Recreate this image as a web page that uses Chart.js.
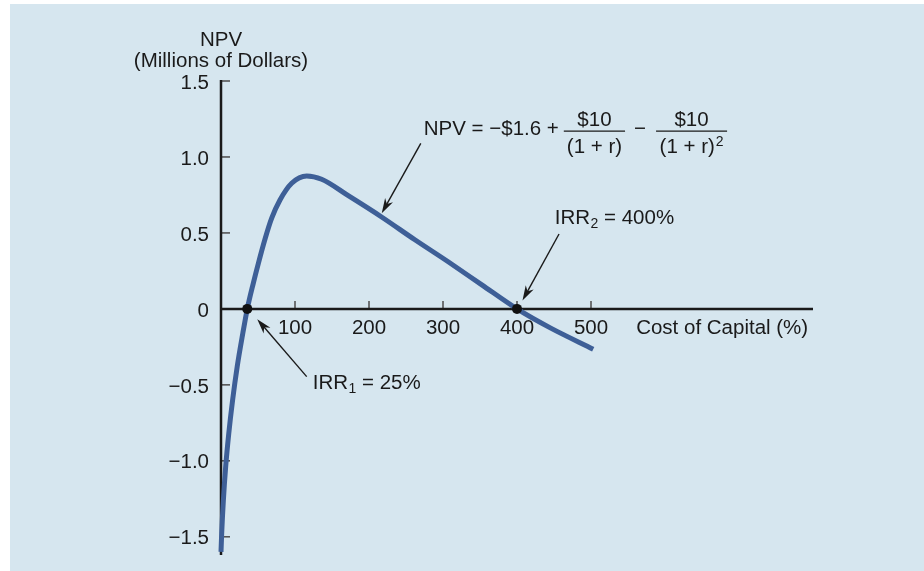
<!DOCTYPE html>
<html>
<head>
<meta charset="utf-8">
<script src="https://cdn.jsdelivr.net/npm/chart.js@4.4.0/dist/chart.umd.min.js"></script>
<style>
    html, body { margin: 0; padding: 0; background: #ffffff; }
    #wrap { width: 924px; height: 571px; }
</style>
</head>
<body>
<div id="wrap"><canvas id="npv-chart" width="924" height="571"></canvas></div>
<script>
// ==================== DATOS ====================

// Curva NPV (costo de capital %, millones de dolares)
const npvX = [0, 0.95, 3.2, 6.3, 10.5, 15.7, 21.9, 29.5, 35.5, 43.7, 50.5, 59.5, 68.5, 79.7, 95.5, 115.8, 136, 172, 217, 262, 307, 352, 400, 445, 503];
const npvY = [-1.6, -1.475, -1.26, -1.04, -0.82, -0.6, -0.38, -0.16, 0, 0.17, 0.30, 0.46, 0.597, 0.717, 0.827, 0.875, 0.853, 0.745, 0.605, 0.455, 0.31, 0.16, 0, -0.125, -0.265];

// Puntos IRR marcados sobre el eje
const irrX = [35.5, 400];
const irrY = [0, 0];

// Ejes
const xTicks = [100, 200, 300, 400, 500];
const yTicks = [-1.5, -1.0, -0.5, 0, 0.5, 1.0, 1.5];
const yTickLabels = ['\u22121.5', '\u22121.0', '\u22120.5', '0', '0.5', '1.0', '1.5'];

const FONT = '"Liberation Sans", Arial, Helvetica, sans-serif';
const INK = '#1a1a1a';
const BASE = 20.5;

function font(size) {
    return size + 'px ' + FONT;
}

/**
 * Flecha con punta rellena, de (x1,y1) a (x2,y2)
 */
function drawArrow(ctx, x1, y1, x2, y2) {
    const ang = Math.atan2(y2 - y1, x2 - x1);
    const len = 15, half = 4.5;
    const c = Math.cos(ang), s = Math.sin(ang);
    ctx.save();
    ctx.strokeStyle = INK;
    ctx.fillStyle = INK;
    ctx.lineWidth = 1.4;
    ctx.beginPath();
    ctx.moveTo(x1, y1);
    ctx.lineTo(x2 - c * len * 0.6, y2 - s * len * 0.6);
    ctx.stroke();
    ctx.beginPath();
    ctx.moveTo(x2, y2);
    ctx.lineTo(x2 - c * len + s * half, y2 - s * len - c * half);
    ctx.lineTo(x2 - c * len * 0.7, y2 - s * len * 0.7);
    ctx.lineTo(x2 - c * len - s * half, y2 - s * len + c * half);
    ctx.closePath();
    ctx.fill();
    ctx.restore();
}

/**
 * Texto tipo "IRR" + subindice + resto
 */
function drawSubLabel(ctx, left, mid, base, sub, rest) {
    ctx.textAlign = 'left';
    ctx.textBaseline = 'middle';
    ctx.font = font(BASE);
    ctx.fillText(base, left, mid);
    let x = left + ctx.measureText(base).width;
    ctx.font = font(14);
    ctx.fillText(sub, x + 0.5, mid + 6);
    x += ctx.measureText(sub).width + 0.5;
    ctx.font = font(BASE);
    ctx.fillText(rest, x, mid);
}

// ==================== PLUGIN: FONDO, EJES Y ANOTACIONES ====================

const npvPlugin = {
    id: 'npvDecor',
    beforeDraw(chart) {
        const ctx = chart.ctx;
        ctx.save();
        ctx.fillStyle = '#ffffff';
        ctx.fillRect(0, 0, chart.width, chart.height);
        ctx.fillStyle = '#d6e6ef';
        ctx.fillRect(10, 4, chart.width - 10, chart.height - 4);
        ctx.restore();
    },
    beforeDatasetsDraw(chart) {
        const ctx = chart.ctx;
        const xs = chart.scales.x, ys = chart.scales.y;
        const area = chart.chartArea;
        const x0 = xs.getPixelForValue(0);
        const y0 = ys.getPixelForValue(0);

        ctx.save();
        // ticks
        ctx.strokeStyle = '#555555';
        ctx.lineWidth = 1.6;
        yTicks.forEach(v => {
            const py = ys.getPixelForValue(v);
            ctx.beginPath();
            ctx.moveTo(x0, py);
            ctx.lineTo(x0 + 9, py);
            ctx.stroke();
        });
        xTicks.forEach(v => {
            const px = xs.getPixelForValue(v);
            ctx.beginPath();
            ctx.moveTo(px, y0);
            ctx.lineTo(px, y0 - 8);
            ctx.stroke();
        });

        // ejes
        ctx.strokeStyle = INK;
        ctx.lineWidth = 2.5;
        ctx.beginPath();
        ctx.moveTo(x0, ys.getPixelForValue(1.5) - 1);
        ctx.lineTo(x0, area.bottom);
        ctx.stroke();
        ctx.beginPath();
        ctx.moveTo(x0 - 1, y0);
        ctx.lineTo(area.right, y0);
        ctx.stroke();

        // etiquetas
        ctx.fillStyle = INK;
        ctx.font = font(BASE);
        ctx.textAlign = 'right';
        ctx.textBaseline = 'middle';
        yTicks.forEach((v, i) => {
            ctx.fillText(yTickLabels[i], x0 - 12, ys.getPixelForValue(v) + 2);
        });
        ctx.textAlign = 'center';
        xTicks.forEach(v => {
            ctx.fillText(String(v), xs.getPixelForValue(v), y0 + 19);
        });
        ctx.textAlign = 'left';
        ctx.fillText('Cost of Capital (%)', xs.getPixelForValue(561), y0 + 19);

        // titulo del eje Y
        ctx.textAlign = 'center';
        ctx.fillText('NPV', x0, 40);
        ctx.fillText('(Millions of Dollars)', x0, 61);
        ctx.restore();
    },
    afterDatasetsDraw(chart) {
        const ctx = chart.ctx;
        const xs = chart.scales.x, ys = chart.scales.y;
        const X = v => xs.getPixelForValue(v);
        const Y = v => ys.getPixelForValue(v);

        ctx.save();
        ctx.fillStyle = INK;
        ctx.strokeStyle = INK;
        ctx.lineWidth = 1.4;

        // formula
        const fx = X(274), fy = Y(1.18);
        ctx.font = font(BASE);
        ctx.textAlign = 'left';
        ctx.textBaseline = 'middle';
        const lead = 'NPV = \u2212$1.6 +';
        ctx.fillText(lead, fx, fy);
        const e1 = fx + ctx.measureText(lead).width;

        const den1 = '(1 + r)';
        const w1 = ctx.measureText(den1).width + 6;
        const l1 = e1 + 5;
        const c1 = l1 + w1 / 2;
        ctx.textAlign = 'center';
        ctx.fillText('$10', c1, fy - 9);
        ctx.fillText(den1, c1, fy + 18);
        ctx.beginPath();
        ctx.moveTo(l1, fy + 1.5);
        ctx.lineTo(l1 + w1, fy + 1.5);
        ctx.stroke();

        const mx = l1 + w1 + 15;
        ctx.fillText('\u2212', mx, fy);

        const l2 = mx + 16;
        const dw = ctx.measureText(den1).width;
        ctx.font = font(14);
        const sw = ctx.measureText('2').width;
        const w2 = dw + sw + 8;
        const c2 = l2 + w2 / 2;
        ctx.font = font(BASE);
        ctx.fillText('$10', c2, fy - 9);
        const dl = c2 - (dw + sw + 1) / 2;
        ctx.textAlign = 'left';
        ctx.fillText(den1, dl, fy + 18);
        ctx.font = font(14);
        ctx.fillText('2', dl + dw + 1, fy + 13);
        ctx.beginPath();
        ctx.moveTo(l2, fy + 1.5);
        ctx.lineTo(l2 + w2, fy + 1.5);
        ctx.stroke();

        // flechas
        drawArrow(ctx, X(270), Y(1.09), X(217.2), Y(0.63));
        drawArrow(ctx, X(456.8), Y(0.493), X(407.4), Y(0.055));
        drawArrow(ctx, X(115.8), Y(-0.446), X(49), Y(-0.068));

        // etiquetas IRR
        drawSubLabel(ctx, X(451), Y(0.598), 'IRR', '2', ' = 400%');
        drawSubLabel(ctx, X(124), Y(-0.487), 'IRR', '1', ' = 25%');
        ctx.restore();
    }
};

// ==================== GRAFICO ====================

const curvePoints = npvX.map((x, i) => ({ x: x, y: npvY[i] }));
const irrPoints = irrX.map((x, i) => ({ x: x, y: irrY[i] }));

new Chart(document.getElementById('npv-chart'), {
    type: 'scatter',
    data: {
        datasets: [
            {
                label: 'IRR',
                data: irrPoints,
                pointRadius: 5,
                pointBackgroundColor: '#111111',
                pointBorderColor: '#111111',
                pointBorderWidth: 0,
                showLine: false,
                order: 0
            },
            {
                label: 'NPV',
                data: curvePoints,
                showLine: true,
                borderColor: '#3e5f97',
                borderWidth: 5,
                borderCapStyle: 'butt',
                borderJoinStyle: 'round',
                pointRadius: 0,
                cubicInterpolationMode: 'monotone',
                fill: false,
                clip: 8,
                order: 1
            }
        ]
    },
    options: {
        responsive: false,
        animation: false,
        devicePixelRatio: 1,
        events: [],
        layout: {
            padding: { left: 221, top: 81, right: 111, bottom: 16 }
        },
        plugins: {
            legend: { display: false },
            tooltip: { enabled: false }
        },
        scales: {
            x: { type: 'linear', min: 0, max: 800, display: false },
            y: { type: 'linear', min: -1.62, max: 1.5, display: false }
        }
    },
    plugins: [npvPlugin]
});
</script>
</body>
</html>
